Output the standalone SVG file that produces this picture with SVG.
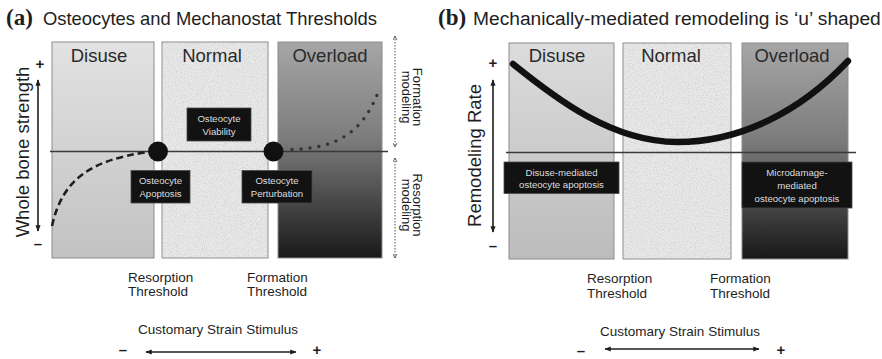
<svg xmlns="http://www.w3.org/2000/svg" width="882" height="359" viewBox="0 0 882 359">
  <style>
    .title { font-family: "Liberation Sans", Arial, sans-serif; fill: #1e1e1e; }
    .tag { font-family: "Liberation Serif", "Times New Roman", serif; font-weight: bold; fill: #1e1e1e; }
    .zone { font-family: "Liberation Sans", Arial, sans-serif; font-size: 18.5px; fill: #2a2a2a; text-anchor: middle; }
    .lbl { font-family: "Liberation Sans", Arial, sans-serif; font-size: 13.5px; fill: #1e1e1e; }
    .axis { font-family: "Liberation Sans", Arial, sans-serif; font-size: 18.5px; fill: #1e1e1e; text-anchor: middle; }
    .side { font-family: "Liberation Sans", Arial, sans-serif; font-size: 13px; fill: #1e1e1e; text-anchor: middle; }
    .sign { font-family: "Liberation Sans", Arial, sans-serif; font-size: 15px; font-weight: bold; fill: #1e1e1e; text-anchor: middle; }
    .boxtxt { font-family: "Liberation Sans", Arial, sans-serif; font-size: 9.6px; fill: #dedede; text-anchor: middle; }
    .panel { stroke: #8c8c8c; stroke-width: 1; }
    .blk { fill: #121212; stroke: #4a4a4a; stroke-width: 0.8; }
    .arrow { stroke: #1e1e1e; stroke-width: 1.6; fill: none; }
    .base { stroke: #3a3a3a; stroke-width: 1.6; fill: none; }
    .dotarrow { stroke: #555; stroke-width: 1; stroke-dasharray: 1.5 1.5; fill: none; }
  </style>
  <defs>
    <linearGradient id="disuseA" x1="0" y1="0" x2="0" y2="1">
      <stop offset="0" stop-color="#e2e2e2"/>
      <stop offset="1" stop-color="#c2c2c2"/>
    </linearGradient>
    <linearGradient id="disuseB" x1="0" y1="0" x2="0" y2="1">
      <stop offset="0" stop-color="#dcdcdc"/>
      <stop offset="1" stop-color="#bcbcbc"/>
    </linearGradient>
    <linearGradient id="overload" x1="0" y1="0" x2="0" y2="1">
      <stop offset="0" stop-color="#a6a6a6"/>
      <stop offset="0.45" stop-color="#7c7c7c"/>
      <stop offset="1" stop-color="#191919"/>
    </linearGradient>
    <filter id="grain" x="0" y="0" width="100%" height="100%">
      <feTurbulence type="fractalNoise" baseFrequency="0.85" numOctaves="2" seed="7" result="n"/>
      <feColorMatrix in="n" type="matrix" values="0 0 0 0 0.5  0 0 0 0 0.5  0 0 0 0 0.5  1.3 0 0 0 -0.55" result="d"/>
      <feComposite in="d" in2="SourceGraphic" operator="in"/>
    </filter>
    <marker id="tip" viewBox="0 0 10 10" refX="9" refY="5" markerWidth="4" markerHeight="4" orient="auto-start-reverse">
      <path d="M0,1 L10,5 L0,9 z" fill="#1e1e1e"/>
    </marker>
    <marker id="chev" viewBox="0 0 10 10" refX="9" refY="5" markerWidth="5" markerHeight="5" orient="auto-start-reverse">
      <path d="M1,1 L9,5 L1,9" fill="none" stroke="#555" stroke-width="1.8"/>
    </marker>
  </defs>

  <!-- panel (a) -->
  <g id="title-a">
    <text class="tag" x="6" y="25" font-size="23">(a)</text>
    <text class="title" x="43" y="25" font-size="18.4">Osteocytes and Mechanostat Thresholds</text>
  </g>

  <g id="a-disuse">
    <rect class="panel" x="52" y="42" width="102" height="216" fill="url(#disuseA)"/>
    <text class="zone" x="99" y="62">Disuse</text>
  </g>
  <g id="a-normal">
    <rect class="panel" x="162" y="42" width="106" height="216" fill="#e9e9e9"/>
    <rect x="162" y="42" width="106" height="216" fill="#fff" filter="url(#grain)"/>
    <text class="zone" x="212" y="62">Normal</text>
  </g>
  <g id="a-overload">
    <rect class="panel" x="278" y="42" width="104" height="216" fill="url(#overload)"/>
    <text class="zone" x="330" y="62">Overload</text>
  </g>

  <g id="a-connectors">
    <!-- stimulus baseline -->
    <line class="base" x1="50" y1="151.5" x2="388" y2="151.5"/>
    <!-- disuse resorption curve -->
    <path d="M52,226 C62,180 90,160 148,152" fill="none" stroke="#1e1e1e" stroke-width="2.6" stroke-dasharray="7 4"/>
    <!-- overload formation curve -->
    <path d="M292,149.5 C335,148 362,135 379,90" fill="none" stroke="#333" stroke-width="3.4" stroke-linecap="round" stroke-dasharray="0 9"/>
    <!-- y axis -->
    <line class="arrow" x1="38" y1="80" x2="38" y2="231" marker-start="url(#tip)" marker-end="url(#tip)"/>
    <!-- modeling ranges -->
    <line class="dotarrow" x1="395" y1="36" x2="395" y2="147" marker-start="url(#chev)" marker-end="url(#chev)"/>
    <line class="dotarrow" x1="395" y1="158" x2="395" y2="258" marker-start="url(#chev)" marker-end="url(#chev)"/>
    <!-- strain axis -->
    <line class="arrow" x1="146" y1="352" x2="296" y2="352" marker-start="url(#tip)" marker-end="url(#tip)"/>
  </g>

  <g id="a-resorption-point">
    <circle cx="158" cy="151.5" r="10" fill="#111"/>
  </g>
  <g id="a-formation-point">
    <circle cx="273.5" cy="151.5" r="10" fill="#111"/>
  </g>

  <g id="a-viability">
    <rect class="blk" x="187" y="108" width="64" height="33"/>
    <text class="boxtxt" x="219" y="122">Osteocyte</text>
    <text class="boxtxt" x="219" y="135">Viability</text>
  </g>
  <g id="a-apoptosis">
    <rect class="blk" x="131" y="170.5" width="59" height="32.5"/>
    <text class="boxtxt" x="160.5" y="184">Osteocyte</text>
    <text class="boxtxt" x="160.5" y="197">Apoptosis</text>
  </g>
  <g id="a-perturbation">
    <rect class="blk" x="242" y="170.5" width="70" height="32.5"/>
    <text class="boxtxt" x="277" y="184">Osteocyte</text>
    <text class="boxtxt" x="277" y="197">Perturbation</text>
  </g>

  <g id="a-axis-labels">
    <text class="axis" transform="translate(28.5,152) rotate(-90)">Whole bone strength</text>
    <text class="sign" x="40" y="69">+</text>
    <text class="sign" x="38" y="249">–</text>
    <text class="side" transform="translate(413,97) rotate(90)">Formation</text>
    <text class="side" transform="translate(402,97) rotate(90)">modeling</text>
    <text class="side" transform="translate(413,205) rotate(90)">Resorption</text>
    <text class="side" transform="translate(402,205) rotate(90)">modeling</text>
    <text class="lbl" x="128" y="282">Resorption</text>
    <text class="lbl" x="128" y="296">Threshold</text>
    <text class="lbl" x="247" y="282">Formation</text>
    <text class="lbl" x="247" y="296">Threshold</text>
    <text class="lbl" x="218" y="334" text-anchor="middle">Customary Strain Stimulus</text>
    <text class="sign" x="123" y="355">–</text>
    <text class="sign" x="317" y="355">+</text>
  </g>

  <!-- panel (b) -->
  <g id="title-b">
    <text class="tag" x="438" y="25" font-size="23">(b)</text>
    <text class="title" x="473" y="25" font-size="19.2">Mechanically-mediated remodeling is ‘u’ shaped</text>
  </g>

  <g id="b-disuse">
    <rect class="panel" x="509" y="43" width="105" height="216" fill="url(#disuseB)"/>
    <text class="zone" x="557" y="62">Disuse</text>
  </g>
  <g id="b-normal">
    <rect class="panel" x="623" y="43" width="108" height="216" fill="#e9e9e9"/>
    <rect x="623" y="43" width="108" height="216" fill="#fff" filter="url(#grain)"/>
    <text class="zone" x="671" y="62">Normal</text>
  </g>
  <g id="b-overload">
    <rect class="panel" x="742" y="43" width="106" height="216" fill="url(#overload)"/>
    <text class="zone" x="792" y="62">Overload</text>
  </g>

  <g id="b-connectors">
    <line class="base" x1="506" y1="152.5" x2="856" y2="152.5"/>
    <!-- u-shaped remodeling rate -->
    <path d="M513,64 C555,98 612,142 677,142 C740,142 800,112 848,61" fill="none" stroke="#111" stroke-width="6.5" stroke-linecap="round"/>
    <line class="arrow" x1="493" y1="80" x2="493" y2="232" marker-start="url(#tip)" marker-end="url(#tip)"/>
    <line class="arrow" x1="605" y1="349" x2="759" y2="349" marker-start="url(#tip)" marker-end="url(#tip)"/>
  </g>

  <g id="b-disuse-apoptosis">
    <rect class="blk" x="504" y="162" width="115" height="31.5"/>
    <text class="boxtxt" x="561.5" y="175.5">Disuse-mediated</text>
    <text class="boxtxt" x="561.5" y="188">osteocyte apoptosis</text>
  </g>
  <g id="b-microdamage-apoptosis">
    <rect class="blk" x="742" y="162" width="110" height="46"/>
    <text class="boxtxt" x="797" y="175.5">Microdamage-</text>
    <text class="boxtxt" x="797" y="188.5">mediated</text>
    <text class="boxtxt" x="797" y="202">osteocyte apoptosis</text>
  </g>

  <g id="b-axis-labels">
    <text class="axis" font-size="19" transform="translate(481,155.5) rotate(-90)">Remodeling  Rate</text>
    <text class="sign" x="493" y="68">+</text>
    <text class="sign" x="493" y="251">–</text>
    <text class="lbl" x="587" y="283">Resorption</text>
    <text class="lbl" x="587" y="298">Threshold</text>
    <text class="lbl" x="710" y="283">Formation</text>
    <text class="lbl" x="710" y="298">Threshold</text>
    <text class="lbl" x="680" y="336" text-anchor="middle">Customary Strain Stimulus</text>
    <text class="sign" x="581" y="355.5">–</text>
    <text class="sign" x="781" y="355">+</text>
  </g>
</svg>
